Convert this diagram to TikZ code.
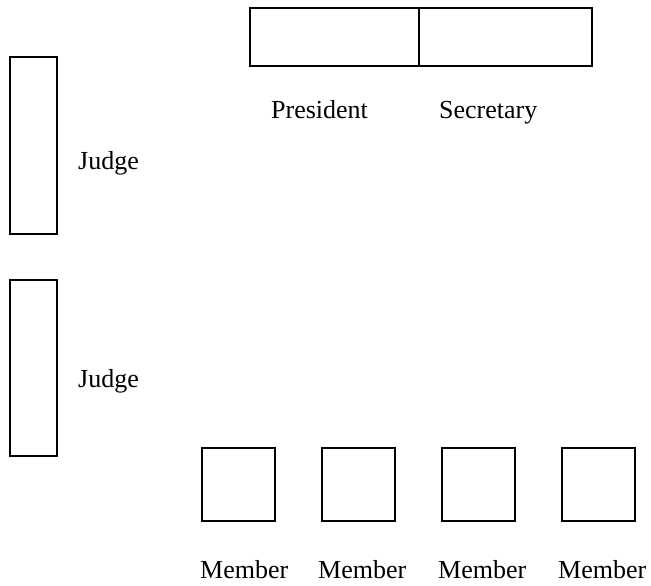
\documentclass[tikz,border=0pt]{standalone}
\usepackage{fontspec}
\setmainfont{Liberation Serif}
\begin{document}
\begin{tikzpicture}[x=1pt,y=-1pt,
  seat/.style={draw=black,line width=1.6pt,fill=white,inner sep=0pt,minimum width=#1},
  lbl/.style={anchor=base west,inner sep=0pt,font=\fontsize{26}{30}\selectfont}]
\useasboundingbox (0,0) rectangle (651,586);
% top table
\draw[line width=1.6pt] (250,8) rectangle (419,66);
\draw[line width=1.6pt] (419,8) rectangle (592,66);
\coordinate (pres) at (271,118);
\coordinate (secr) at (439,118);
\node[lbl] (tpres) at (pres) {President};
\node[lbl] (tsecr) at (secr) {Secretary};
% judges
\draw[line width=1.6pt] (10,57) rectangle (57,234);
\draw[line width=1.6pt] (10,280) rectangle (57,456);
\node[lbl] (j1) at (78,169) {Judge};
\node[lbl] (j2) at (78,387) {Judge};
% members
\foreach \x/\t in {202/200,322/318,442/438,562/558}{
  \draw[line width=1.6pt] (\x,448) rectangle ++(73,73);
  \node[lbl] at (\t,578) {Member};
}
\end{tikzpicture}
\end{document}
